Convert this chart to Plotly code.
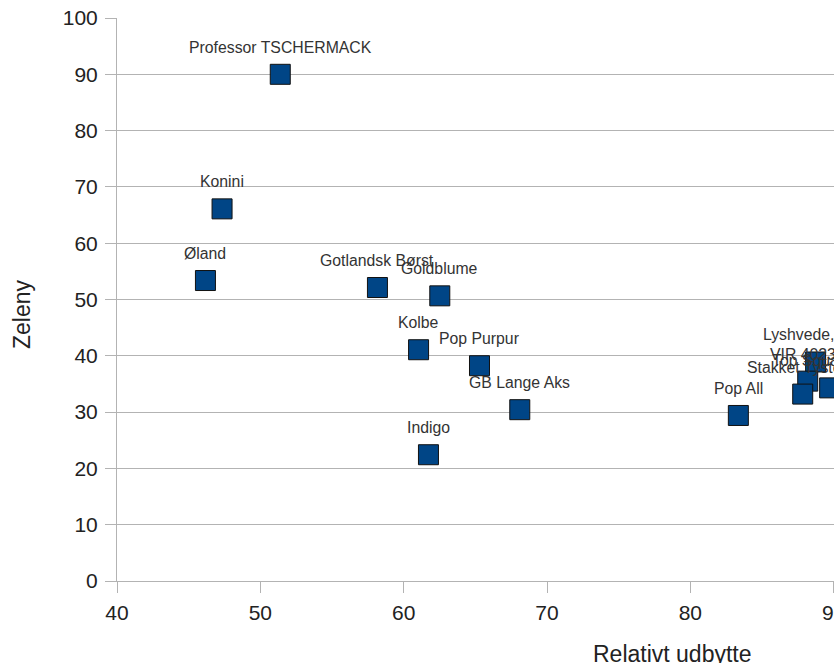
import plotly.graph_objects as go

names = ["Professor TSCHERMACK", "Konini", "Øland", "Gotlandsk Børst", "Goldblume",
         "Kolbe", "Pop Purpur", "GB Lange Aks", "Indigo", "Pop All",
         "Lyshvede, Dan", "VIR 40237", "Top Squarehead", "Stakket Tystofte"]
udbytte = [51.39, 47.33, 46.17, 58.17, 62.52, 61.04, 65.29, 68.10, 61.73, 83.35,
           88.74, 88.19, 89.72, 87.84]
zeleny = [90.0, 66.1, 53.37, 52.13, 50.65, 41.08, 38.24, 30.43, 22.43, 29.4,
          38.9, 35.5, 34.3, 33.2]

x_ticks = [40, 50, 60, 70, 80, 90, 100]
y_ticks = [0, 10, 20, 30, 40, 50, 60, 70, 80, 90, 100]

FONT = "Liberation Sans, Arial, sans-serif"
GRID = "#b3b3b3"

fig = go.Figure()
fig.add_trace(go.Scatter(
    x=udbytte, y=zeleny, mode="markers",
    marker=dict(symbol="square", size=20, color="#004586",
                line=dict(color="#111111", width=1)),
    cliponaxis=False, showlegend=False, hoverinfo="skip",
))

annotations = [
    dict(x=xv, y=yv, text=n, showarrow=False, xref="x", yref="y",
         xanchor="center", yanchor="middle", yshift=27,
         font=dict(family=FONT, size=15.8, color="#333333"))
    for n, xv, yv in zip(names, udbytte, zeleny)
]
annotations.append(dict(text="Relativt udbytte", xref="paper", yref="paper",
                        x=(672 - 117) / 860, y=0, yshift=-73, showarrow=False,
                        xanchor="center", yanchor="middle",
                        font=dict(family=FONT, size=23, color="#222222")))
annotations.append(dict(text="Zeleny", xref="paper", yref="paper",
                        x=0, xshift=-95, y=(581 - 314) / 563, showarrow=False,
                        xanchor="center", yanchor="middle", textangle=-90,
                        font=dict(family=FONT, size=23, color="#222222")))

fig.update_layout(
    width=997, height=663,
    margin=dict(l=117, r=20, t=18, b=82, autoexpand=False),
    paper_bgcolor="white", plot_bgcolor="white",
    font=dict(family=FONT, color="#222222"),
    annotations=annotations,
    xaxis=dict(range=[40, 100], tickvals=x_ticks, showgrid=False, automargin=False,
               showline=True, linecolor=GRID, linewidth=1,
               ticks="outside", ticklen=11, tickcolor=GRID, ticklabelstandoff=2,
               tickfont=dict(size=21, color="#222222"), zeroline=False),
    yaxis=dict(range=[0, 100], tickvals=y_ticks, showgrid=True, gridcolor=GRID,
               gridwidth=1, showline=True, linecolor=GRID, linewidth=1, automargin=False,
               ticks="outside", ticklen=11, tickcolor=GRID, ticklabelstandoff=3,
               tickfont=dict(size=21, color="#222222"), zeroline=False),
)

post = ("document.body.style.margin='0';document.body.style.overflow='hidden';"
        "document.documentElement.style.overflow='hidden';")
fig.write_html("out.html", post_script=post, config={"displayModeBar": False})
